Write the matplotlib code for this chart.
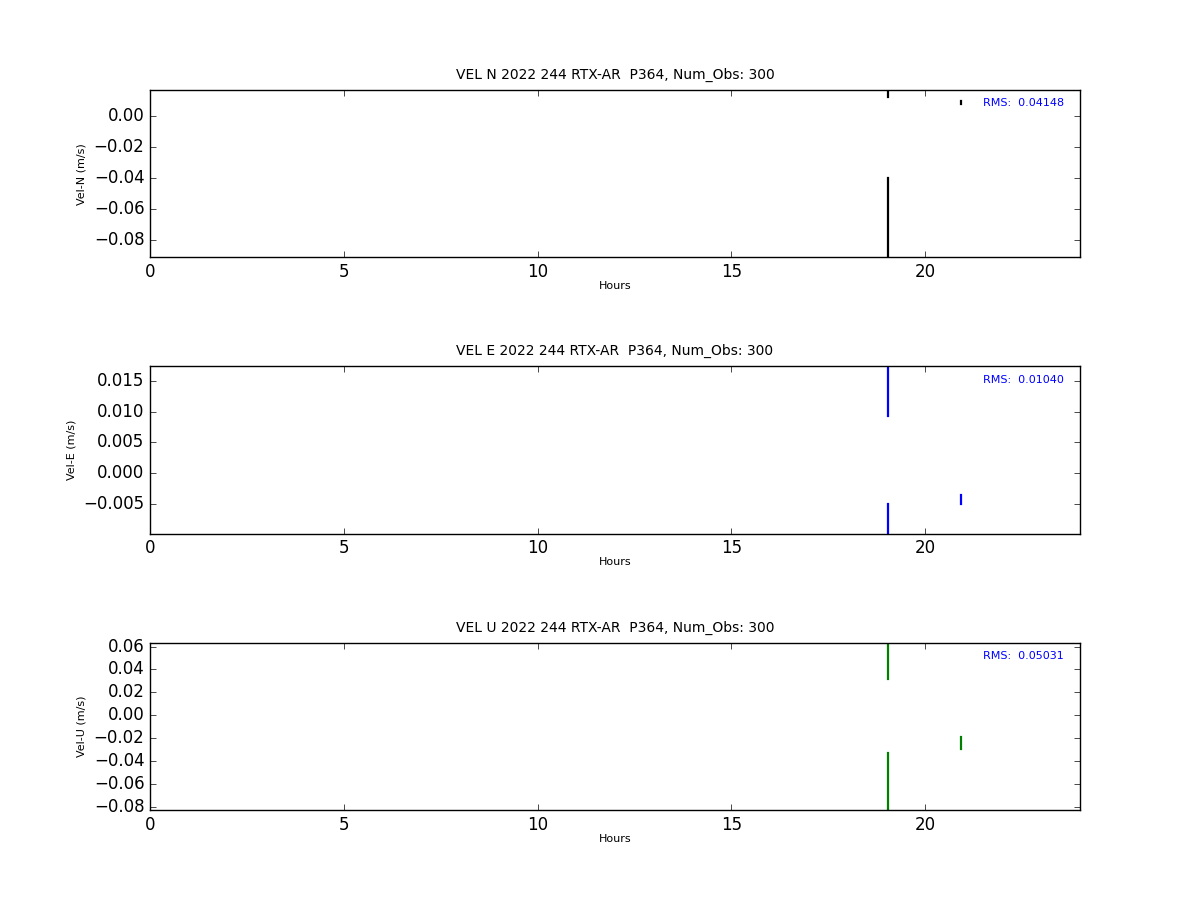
import numpy as np
import matplotlib
matplotlib.use("Agg")
import matplotlib.pyplot as plt

plt.style.use("classic")

# hours of each observation block (NaN = break between blocks)
hours = [19.05, 19.05, np.nan, 19.05, 19.05, np.nan, 20.93, 20.93]

vel_n = [0.0168, 0.0123, np.nan, -0.0400, -0.0910, np.nan, 0.0096, 0.0078]
vel_e = [0.0174, 0.0093, np.nan, -0.0050, -0.0099, np.nan, -0.0036, -0.0050]
vel_u = [0.0635, 0.0319, np.nan, -0.0330, -0.0826, np.nan, -0.0190, -0.0295]

components = ["N", "E", "U"]
colors = ["black", "blue", "green"]
rms_values = [0.04148, 0.01040, 0.05031]
num_obs = 300
title_tmpl = "VEL {} 2022 244 RTX-AR  P364, Num_Obs: {}"

fig, axes = plt.subplots(3, 1, figsize=(12, 9), dpi=100)
fig.patch.set_facecolor("white")
fig.subplots_adjust(left=0.125, right=0.9, bottom=0.1, top=0.9, hspace=0.65)

for ax, comp, color, vals, rms in zip(axes, components, colors,
                                      [vel_n, vel_e, vel_u], rms_values):
    ax.plot(hours, vals, color=color, linewidth=1.6)
    ax.set_xlim(0, 24)
    ax.set_ylim(np.nanmin(vals), np.nanmax(vals))
    ax.set_title(title_tmpl.format(comp, num_obs), fontsize=10, pad=8)
    ax.set_xlabel("Hours", fontsize=8, labelpad=0)
    ax.set_ylabel("Vel-{} (m/s)".format(comp), fontsize=8)
    ax.text(0.896, 0.92, "RMS:  {:.5f}".format(rms), transform=ax.transAxes,
            color="blue", fontsize=8, va="center", ha="left")

plt.savefig("out.png", dpi=100, facecolor="white")
